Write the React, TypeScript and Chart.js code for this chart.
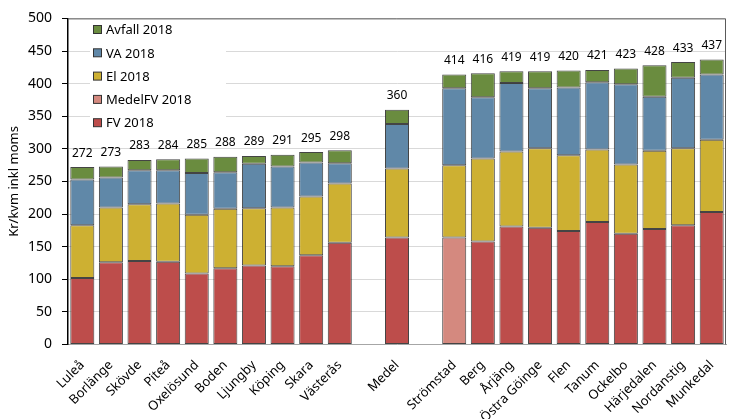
import React, { useEffect, useRef } from "react";
import { Chart, registerables } from "chart.js";

Chart.register(...registerables);

const categories = [
  "Luleå", "Borlänge", "Skövde", "Piteå", "Oxelösund", "Boden", "Ljungby", "Köping", "Skara", "Västerås",
  "", "Medel", "",
  "Strömstad", "Berg", "Årjäng", "Östra Göinge", "Flen", "Tanum", "Ockelbo", "Härjedalen", "Nordanstig", "Munkedal",
];

const fv2018 = [102, 126, 128, 127, 109, 117, 121, 120, 137, 156, null, 164, null, null, 158, 181, 179, 174, 188, 170, 177, 183, 203];
const medelFv2018 = [null, null, null, null, null, null, null, null, null, null, null, null, null, 164, null, null, null, null, null, null, null, null, null];
const el2018 = [81, 84, 87, 89, 90, 91, 88, 90, 90, 91, null, 106, null, 111, 127, 115, 122, 116, 111, 106, 120, 118, 111];
const va2018 = [70, 46, 52, 51, 64, 56, 68, 63, 52, 31, null, 68, null, 118, 94, 105, 92, 104, 103, 123, 83, 108, 100];
const avfall2018 = [19, 17, 16, 17, 22, 24, 12, 18, 16, 20, null, 22, null, 21, 37, 18, 26, 26, 19, 24, 48, 24, 23];

const yTicks = [0, 50, 100, 150, 200, 250, 300, 350, 400, 450, 500];

const COLORS = {
  fv: "#BD4D4B",
  medel: "#D4897F",
  el: "#CDB032",
  va: "#6088A8",
  avfall: "#6A8C3F",
};

const FONT = "'Noto Sans', 'DejaVu Sans', sans-serif";

const legendItems = [
  { label: "Avfall 2018", color: COLORS.avfall },
  { label: "VA 2018", color: COLORS.va },
  { label: "El 2018", color: COLORS.el },
  { label: "MedelFV 2018", color: COLORS.medel },
  { label: "FV 2018", color: COLORS.fv },
];

const legendPlugin = {
  id: "insideLegend",
  beforeDatasetsDraw(chart: any) {
    const ctx = chart.ctx;
    ctx.save();
    ctx.fillStyle = "#ffffff";
    ctx.fillRect(90, 19, 136, 114);
    ctx.font = `13px ${FONT}`;
    ctx.textBaseline = "middle";
    ctx.textAlign = "left";
    legendItems.forEach((it, i) => {
      const cy = 30 + i * 23.3;
      ctx.fillStyle = it.color;
      ctx.fillRect(93.5, cy - 4.5, 8, 8);
      ctx.strokeStyle = "#333333";
      ctx.lineWidth = 1;
      ctx.strokeRect(93.5, cy - 4.5, 8, 8);
      ctx.fillStyle = "#000000";
      ctx.fillText(it.label, 106, cy + 0.5);
    });
    ctx.restore();
  },
};

const totalsPlugin = {
  id: "totals",
  afterDatasetsDraw(chart: any) {
    const ctx = chart.ctx;
    const xs = chart.scales.x;
    const ys = chart.scales.y;
    ctx.save();
    ctx.font = `12px ${FONT}`;
    ctx.fillStyle = "#000000";
    ctx.textAlign = "center";
    ctx.textBaseline = "middle";
    categories.forEach((_, i) => {
      let total = 0;
      chart.data.datasets.forEach((ds: any) => {
        const v = ds.data[i];
        if (typeof v === "number") total += v;
      });
      if (total > 0) {
        const x = xs.getPixelForValue(i);
        const y = ys.getPixelForValue(total);
        ctx.fillText(String(total), x, y - 14);
      }
    });
    const a = chart.chartArea;
    ctx.strokeStyle = "#5a5a5a";
    ctx.lineWidth = 1;
    ctx.beginPath();
    ctx.moveTo(a.left, a.top + 0.5);
    ctx.lineTo(a.right - 0.5, a.top + 0.5);
    ctx.lineTo(a.right - 0.5, a.bottom);
    ctx.stroke();
    ctx.restore();
  },
};

export default function App() {
  const ref = useRef<HTMLCanvasElement | null>(null);

  useEffect(() => {
    if (!ref.current) return;
    const border = "rgba(35,35,35,0.85)";
    const mk = (label: string, data: (number | null)[], color: string) => ({
      label,
      data,
      backgroundColor: color,
      borderColor: border,
      borderWidth: 1,
      borderSkipped: false as const,
      stack: "s",
      categoryPercentage: 1.0,
      barPercentage: 0.84,
    });
    const chart = new Chart(ref.current, {
      type: "bar",
      data: {
        labels: categories,
        datasets: [
          mk("FV 2018", fv2018, COLORS.fv),
          mk("MedelFV 2018", medelFv2018, COLORS.medel),
          mk("El 2018", el2018, COLORS.el),
          mk("VA 2018", va2018, COLORS.va),
          mk("Avfall 2018", avfall2018, COLORS.avfall),
        ],
      },
      options: {
        responsive: false,
        animation: false,
        layout: { padding: { top: 16, right: 20, left: 0, bottom: 0 } },
        plugins: {
          legend: { display: false },
          tooltip: { enabled: false },
        },
        scales: {
          x: {
            stacked: true,
            grid: { display: false, drawTicks: false },
            border: { display: true, color: "#a6a6a6", width: 1 },
            ticks: {
              autoSkip: false,
              minRotation: 45,
              maxRotation: 45,
              padding: 13,
              color: "#000000",
              font: { family: FONT, size: 13 },
            },
            afterFit: (s: any) => {
              s.height = 419 - 344.5;
            },
          },
          y: {
            stacked: true,
            min: 0,
            max: 500,
            afterBuildTicks: (s: any) => {
              s.ticks = yTicks.map((v) => ({ value: v }));
            },
            grid: {
              color: "#d9d9d9",
              tickColor: "#000000",
              tickLength: 6,
              lineWidth: 1,
            },
            border: { display: true, color: "#000000", width: 1.5 },
            ticks: {
              padding: 10,
              color: "#000000",
              font: { family: FONT, size: 14 },
            },
            title: {
              display: true,
              text: "Kr/kvm inkl moms",
              color: "#000000",
              font: { family: FONT, size: 13 },
              padding: { top: 6, bottom: 0 },
            },
            afterFit: (s: any) => {
              s.width = 68;
            },
          },
        },
      },
      plugins: [legendPlugin, totalsPlugin],
    });
    return () => chart.destroy();
  }, []);

  return (
    <div style={{ position: "fixed", left: 0, top: 0, width: 746, height: 419, background: "#fff" }}>
      <canvas ref={ref} width={746} height={419} style={{ width: 746, height: 419 }} />
    </div>
  );
}
